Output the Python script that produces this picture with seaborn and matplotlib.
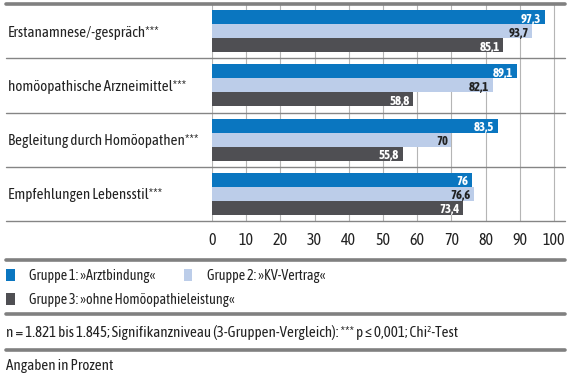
import matplotlib
matplotlib.use("Agg")
import matplotlib.pyplot as plt
from matplotlib.lines import Line2D
import pandas as pd
import seaborn as sns

categories = [
    "Erstanamnese/-gespräch***",
    "homöopathische Arzneimittel***",
    "Begleitung durch Homöopathen***",
    "Empfehlungen Lebensstil***",
]
groups = [
    "Gruppe 1: »Arztbindung«",
    "Gruppe 2: »KV-Vertrag«",
    "Gruppe 3: »ohne Homöopathieleistung«",
]
gruppe1 = [97.3, 89.1, 83.5, 76]
gruppe2 = [93.7, 82.1, 70, 76.6]
gruppe3 = [85.1, 58.8, 55.8, 73.4]
x_ticks = [0, 10, 20, 30, 40, 50, 60, 70, 80, 90, 100]

colors = ["#0a76c0", "#bccde9", "#4f4f53"]
label_colors = ["white", "#222222", "white"]
text_color = "#222222"
fs = 10.8

sns.set_theme(style="white")
plt.rcParams["font.family"] = ["Asap Condensed", "DejaVu Sans"]

df = pd.DataFrame({
    "Kategorie": categories * 3,
    "Gruppe": [g for g in groups for _ in categories],
    "Wert": gruppe1 + gruppe2 + gruppe3,
})

fig = plt.figure(figsize=(5.72, 3.90), dpi=100)
ax = fig.add_axes([212 / 572, 1 - 221 / 390, 353 / 572, 217 / 390])

sns.barplot(data=df, y="Kategorie", x="Wert", hue="Gruppe", order=categories,
            hue_order=groups, palette=colors, orient="h", width=0.774,
            saturation=1, ax=ax, edgecolor="none")

handles, labels = ax.get_legend_handles_labels()
ax.get_legend().remove()

ax.set_xlim(0, 100 * 353 / 342)
ax.set_ylim(3.5, -0.5)
ax.set_xticks(x_ticks)
ax.set_xlabel("")
ax.set_ylabel("")
ax.grid(axis="x", color="#b5b5b5", linewidth=0.8)
ax.set_axisbelow(True)
for s in ax.spines.values():
    s.set_visible(False)
ax.tick_params(axis="x", length=0, pad=8, labelsize=11.5, labelcolor=text_color)
ax.tick_params(axis="y", length=0, pad=147, labelsize=fs, labelcolor=text_color)
for t in ax.get_yticklabels():
    t.set_horizontalalignment("left")

# value labels inside bar ends
for cont, tc in zip(ax.containers, label_colors):
    for bar in cont:
        v = bar.get_width()
        txt = f"{v:g}".replace(".", ",")
        ax.annotate(txt, (v, bar.get_y() + bar.get_height() / 2),
                    xytext=(-2.5, -0.4), textcoords="offset points",
                    ha="right", va="center_baseline", fontsize=9.2,
                    fontweight="bold", color=tc)

# separators between categories
tr = ax.get_yaxis_transform()
left = (6 - 212) / 353
for y in [0.5, 1.5, 2.5, 3.5]:
    ax.plot([left, 1], [y, y], transform=tr, color="#858585", lw=1.0,
            clip_on=False)

# thick rules
for ypx in [4, 260, 314, 350]:
    fig.add_artist(Line2D([6 / 572, 565 / 572], [1 - ypx / 390] * 2,
                          color="#808080", lw=2.6))

leg_kw = dict(loc="center left", frameon=False, fontsize=10.2, borderpad=0,
              borderaxespad=0, handlelength=0.62, handleheight=0.85,
              handletextpad=1.0, labelcolor=text_color)
fig.legend([handles[0], handles[1]], [labels[0], labels[1]],
           bbox_to_anchor=(6 / 572, 1 - 276 / 390), ncol=2,
           columnspacing=2.0, **leg_kw)
fig.legend([handles[2]], [labels[2]],
           bbox_to_anchor=(6 / 572, 1 - 300 / 390), **leg_kw)

fig.text(6 / 572, 1 - 332 / 390,
         "n = 1.821 bis 1.845; Signifikanzniveau (3-Gruppen-Vergleich): *** p ≤ 0,001; Chi²-Test",
         ha="left", va="center", fontsize=fs, color=text_color)
fig.text(6 / 572, 1 - 366 / 390, "Angaben in Prozent",
         ha="left", va="center", fontsize=fs, color=text_color)

fig.savefig("out.png", dpi=100)
